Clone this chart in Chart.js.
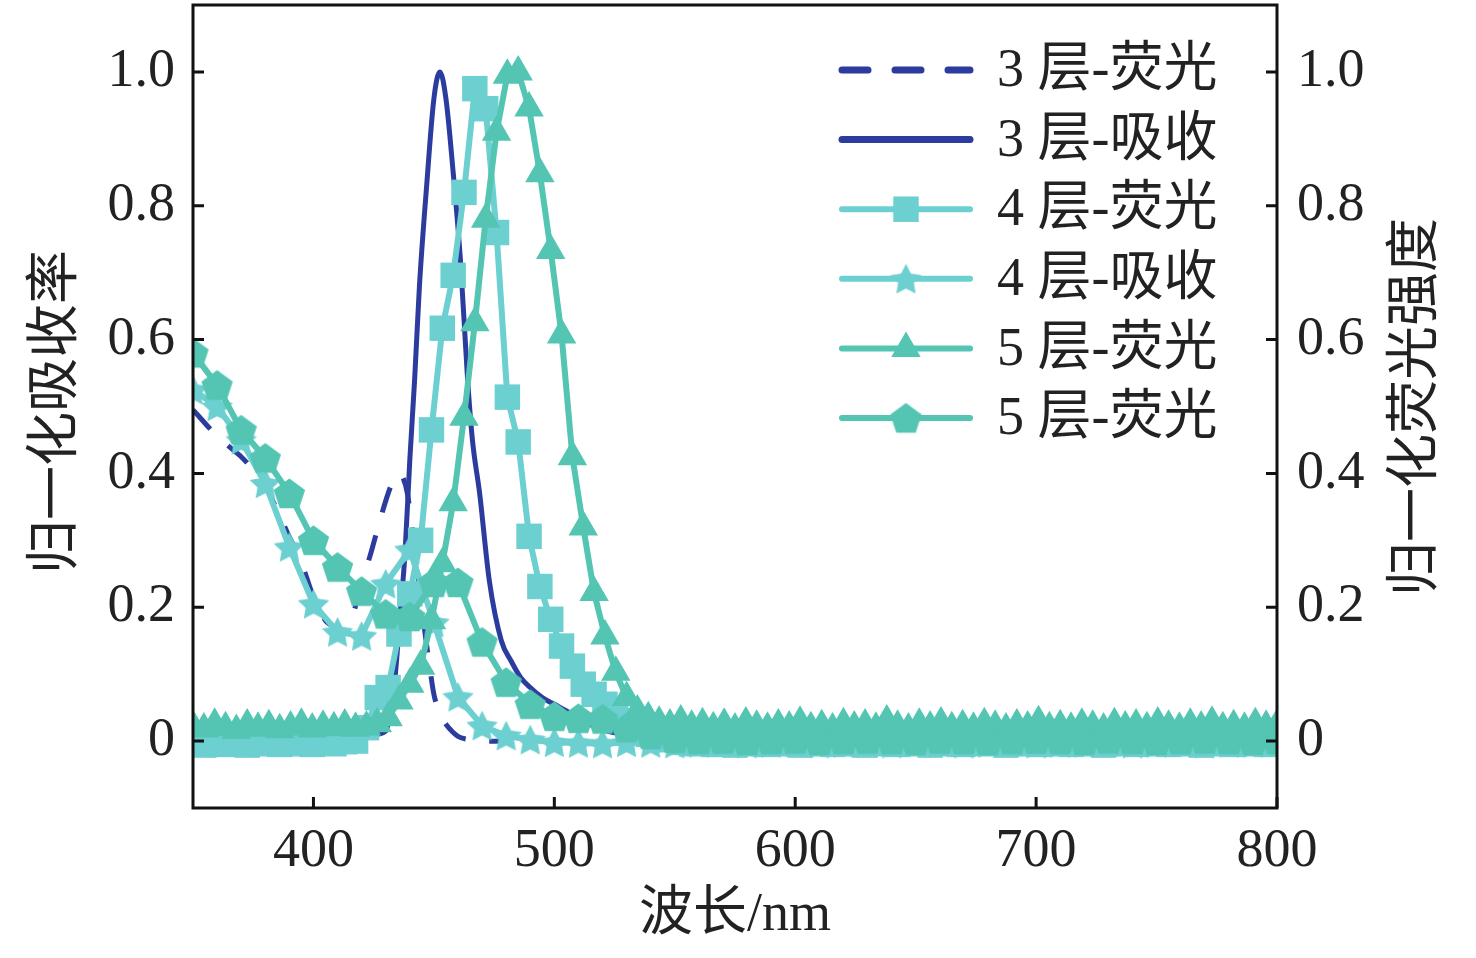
<!DOCTYPE html>
<html>
<head>
<meta charset="utf-8">
<script src="https://cdn.jsdelivr.net/npm/chart.js@4.4.1/dist/chart.umd.min.js"></script>
<style>
  html, body { margin: 0; padding: 0; background: #fff; }
  #wrap { width: 1476px; height: 958px; }
</style>
</head>
<body>
<div id="wrap"><canvas id="myChart"></canvas></div>
<script>
// wavelength grids (nm)
var wl45 = [
  350, 354.5, 359, 363.5, 368, 372.5, 377, 381.5, 386, 390.5,
  395, 399.5, 404, 408.5, 413, 417.5, 422, 426.5, 431, 435.5,
  440, 444.5, 449, 453.5, 458, 462.5, 467, 471.5, 476, 480.5,
  485, 489.5, 494, 498.5, 503, 507.5, 512, 516.5, 521, 525.5,
  530, 534.5, 539, 543.5, 548, 552.5, 557, 561.5, 566, 570.5,
  575, 579.5, 584, 588.5, 593, 597.5, 602, 606.5, 611, 615.5,
  620, 624.5, 629, 633.5, 638, 642.5, 647, 651.5, 656, 660.5,
  665, 669.5, 674, 678.5, 683, 687.5, 692, 696.5, 701, 705.5,
  710, 714.5, 719, 723.5, 728, 732.5, 737, 741.5, 746, 750.5,
  755, 759.5, 764, 768.5, 773, 777.5, 782, 786.5, 791, 795.5,
  800
];
var wl10 = [
  350, 360, 370, 380, 390, 400, 410, 420, 430, 440,
  450, 460, 470, 480, 490, 500, 510, 520, 530, 540,
  550, 560, 570, 580, 590, 600, 610, 620, 630, 640,
  650, 660, 670, 680, 690, 700, 710, 720, 730, 740,
  750, 760, 770, 780, 790, 800
];

// 3 层-荧光 (dashed)
var wl3Fluor = [350, 355, 360, 365, 370, 375, 380, 385, 390, 395, 400, 405, 410, 413, 416, 420, 424, 428, 432, 435, 437, 439, 442, 444, 446, 448, 450, 452, 455, 460, 465, 470, 480];
var layer3Fluor = [0.495, 0.475, 0.455, 0.44, 0.425, 0.405, 0.38, 0.345, 0.305, 0.267, 0.215, 0.18, 0.168, 0.165, 0.185, 0.235, 0.283, 0.335, 0.38, 0.40, 0.395, 0.37, 0.29, 0.23, 0.17, 0.118, 0.07, 0.045, 0.025, 0.007, 0.002, 0, 0];

// 3 层-吸收 (solid)
var wl3Abs = [350, 380, 410, 425, 430, 432, 434, 436, 438, 440, 442, 444, 447, 450, 452.5, 455, 458, 461, 464, 466, 469, 473, 478, 482, 486, 490, 495, 500, 506, 512, 518, 524, 530, 560, 600, 650, 700, 750, 800];
var layer3Abs = [0.01, 0.01, 0.01, 0.01, 0.015, 0.045, 0.1, 0.19, 0.28, 0.42, 0.54, 0.68, 0.83, 0.96, 1.0, 0.96, 0.85, 0.72, 0.54, 0.45, 0.37, 0.24, 0.15, 0.12, 0.095, 0.08, 0.065, 0.055, 0.043, 0.03, 0.02, 0.013, 0.01, 0.008, 0.008, 0.008, 0.008, 0.008, 0.008];

// 4 层-荧光 (squares) on wl45
var layer4Fluor = [
  -0.004, -0.006, -0.003, -0.005, -0.002, -0.006, -0.004, -0.003, -0.005, -0.004,
  -0.003, -0.005, -0.002, -0.004, -0.001, 0.0, 0.02, 0.065, 0.08, 0.16,
  0.22, 0.30, 0.465, 0.617, 0.696, 0.82, 0.975, 0.945, 0.76, 0.514,
  0.447, 0.306, 0.231, 0.182, 0.142, 0.112, 0.085, 0.07, 0.055, 0.042,
  0.03, 0.018, 0.01, 0.004, 0.002, -0.002, -0.004, -0.003, -0.005, -0.004,
  -0.006, -0.003, -0.004, -0.005, -0.002, -0.004, -0.006, -0.003, -0.004, -0.005,
  -0.003, -0.004, -0.006, -0.002, -0.004, -0.005, -0.003, -0.004, -0.006, -0.003,
  -0.004, -0.005, -0.002, -0.004, -0.003, -0.006, -0.004, -0.003, -0.005, -0.004,
  -0.002, -0.005, -0.004, -0.003, -0.006, -0.004, -0.003, -0.005, -0.004, -0.002,
  -0.005, -0.004, -0.003, -0.006, -0.004, -0.003, -0.005, -0.004, -0.003, -0.005,
  -0.004
];

// 4 层-吸收 (stars) on wl10
var layer4Abs = [
  0.525, 0.50, 0.45, 0.385, 0.29, 0.205, 0.163, 0.157, 0.235, 0.286,
  0.177, 0.066, 0.023, 0.008, 0.002, -0.002, -0.003, -0.004, -0.002, -0.003,
  -0.004, -0.003, -0.002, -0.004, -0.003, -0.002, -0.004, -0.003, -0.003, -0.004,
  -0.002, -0.003, -0.004, -0.003, -0.002, -0.004, -0.003, -0.003, -0.002, -0.004,
  -0.003, -0.002, -0.004, -0.003, -0.003, -0.002
];

// 5 层-荧光 (triangles) on wl45
var layer5FluorA = [
  0.022, 0.018, 0.025, 0.02, 0.016, 0.024, 0.019, 0.023, 0.017, 0.021,
  0.025, 0.018, 0.022, 0.02, 0.024, 0.019, 0.021, 0.026, 0.035, 0.06,
  0.085, 0.112, 0.18, 0.265, 0.356, 0.484, 0.625, 0.78, 0.91, 0.995,
  1.0, 0.946, 0.848, 0.733, 0.607, 0.425, 0.32, 0.222, 0.157, 0.103,
  0.065, 0.045, 0.035, 0.028, 0.024, 0.03, 0.022, 0.026, 0.02, 0.025,
  0.018, 0.027, 0.022, 0.019, 0.024, 0.021, 0.028, 0.02, 0.023, 0.018,
  0.026, 0.021, 0.024, 0.019, 0.03, 0.022, 0.018, 0.025, 0.021, 0.027,
  0.02, 0.023, 0.019, 0.026, 0.022, 0.018, 0.024, 0.021, 0.029, 0.02,
  0.023, 0.019, 0.025, 0.022, 0.018, 0.026, 0.021, 0.024, 0.02, 0.027,
  0.022, 0.019, 0.025, 0.021, 0.028, 0.02, 0.023, 0.019, 0.026, 0.022,
  0.024
];

// 5 层-荧光 (pentagons) on wl10
var layer5FluorB = [
  0.58, 0.532, 0.465, 0.423, 0.37, 0.30, 0.26, 0.224, 0.19, 0.186,
  0.237, 0.237, 0.148, 0.088, 0.055, 0.037, 0.034, 0.033, 0.02, 0.01,
  0.004, 0.002, 0.003, 0.001, 0.002, 0.003, 0.001, 0.002, 0.003, 0.002,
  0.001, 0.003, 0.002, 0.001, 0.002, 0.003, 0.002, 0.001, 0.003, 0.002,
  0.001, 0.002, 0.003, 0.002, 0.001, 0.002
];

var seriesNames = ['3 层-荧光', '3 层-吸收', '4 层-荧光', '4 层-吸收', '5 层-荧光', '5 层-荧光'];
var xTicks = [400, 500, 600, 700, 800];
var yTicks = [0, 0.2, 0.4, 0.6, 0.8, 1.0];

var BLUE = '#2b3b9e';
var CYAN = '#6ccfd0';
var TEAL = '#53c5b2';
var NUM_FONT = "'Liberation Serif', 'Noto Sans CJK SC', serif";

function pairs(xs, ys) {
  return xs.map(function (x, i) { return {x: x, y: ys[i]}; });
}

// filled star / pentagon markers
function makeShape(kind, size, color) {
  var c = document.createElement('canvas');
  c.width = c.height = size;
  var g = c.getContext('2d');
  var r = size / 2;
  var n = kind === 'star' ? 10 : 5;
  g.fillStyle = color;
  g.beginPath();
  for (var i = 0; i < n; i++) {
    var ang = -Math.PI / 2 + i * 2 * Math.PI / n;
    var rr = (kind === 'star' && i % 2) ? r * 0.5 : r;
    g.lineTo(r + rr * Math.cos(ang), r + rr * Math.sin(ang) + 1.5);
  }
  g.closePath();
  g.fill();
  return c;
}

var starImg = makeShape('star', 33, CYAN);
var pentImg = makeShape('pent', 33, TEAL);

var datasets = [
  {label: seriesNames[0], data: pairs(wl3Fluor, layer3Fluor), borderColor: BLUE, borderWidth: 5,
   borderDash: [26, 24], pointRadius: 0, tension: 0.3, order: 6},
  {label: seriesNames[1], data: pairs(wl3Abs, layer3Abs), borderColor: BLUE, borderWidth: 5,
   pointRadius: 0, cubicInterpolationMode: 'monotone', order: 5},
  {label: seriesNames[2], data: pairs(wl45, layer4Fluor), borderColor: CYAN, backgroundColor: CYAN, borderWidth: 6,
   pointStyle: 'rect', pointRadius: 18, pointBorderWidth: 0, order: 4},
  {label: seriesNames[3], data: pairs(wl10, layer4Abs), borderColor: CYAN, backgroundColor: CYAN, borderWidth: 6,
   pointStyle: starImg, pointRadius: 16, order: 3},
  {label: seriesNames[4], data: pairs(wl45, layer5FluorA), borderColor: TEAL, backgroundColor: TEAL, borderWidth: 6,
   pointStyle: 'triangle', pointRadius: 17, pointBorderWidth: 0, order: 2},
  {label: seriesNames[5], data: pairs(wl10, layer5FluorB), borderColor: TEAL, backgroundColor: TEAL, borderWidth: 6,
   pointStyle: pentImg, pointRadius: 16, order: 1}
];
datasets.forEach(function (d) { d.clip = 0; d.fill = false; });

// box, inward ticks, legend and axis titles
var decorations = {
  id: 'decorations',
  afterDatasetsDraw: function (chart) {
    var ctx = chart.ctx, a = chart.chartArea, sc = chart.scales;
    ctx.save();
    ctx.strokeStyle = '#111';
    ctx.lineWidth = 3;
    ctx.strokeRect(a.left, a.top, a.right - a.left, a.bottom - a.top);
    ctx.beginPath();
    yTicks.forEach(function (v) {
      var y = sc.y.getPixelForValue(v);
      ctx.moveTo(a.left, y); ctx.lineTo(a.left + 11, y);
      ctx.moveTo(a.right, y); ctx.lineTo(a.right - 11, y);
    });
    xTicks.forEach(function (v) {
      var x = sc.x.getPixelForValue(v);
      ctx.moveTo(x, a.bottom); ctx.lineTo(x, a.bottom - 11);
    });
    ctx.stroke();

    // legend
    var lx0 = 842, lx1 = 970, ly = 70, step = 69.6;
    chart.data.datasets.forEach(function (d, i) {
      var y = ly + i * step;
      ctx.strokeStyle = d.borderColor;
      ctx.lineWidth = i < 2 ? 7 : 6;
      ctx.lineCap = 'round';
      ctx.setLineDash(d.borderDash ? [26, 27] : []);
      ctx.beginPath();
      ctx.moveTo(lx0, y); ctx.lineTo(lx1, y);
      ctx.stroke();
      ctx.setLineDash([]);
      if (d.pointRadius > 0) {
        ctx.fillStyle = d.backgroundColor;
        Chart.helpers.drawPoint(ctx, {pointStyle: d.pointStyle, radius: d.pointRadius, rotation: 0, borderWidth: 0}, (lx0 + lx1) / 2, y);
      }
      ctx.fillStyle = '#222';
      ctx.font = '54px ' + NUM_FONT;
      ctx.textAlign = 'left';
      ctx.textBaseline = 'middle';
      ctx.fillText(d.label, 997, y + 2);
    });
    ctx.restore();
  },
  afterDraw: function (chart) {
    var ctx = chart.ctx;
    ctx.save();
    ctx.fillStyle = '#222';
    ctx.font = '54px ' + NUM_FONT;
    ctx.textAlign = 'center';
    ctx.textBaseline = 'middle';
    ctx.fillText('波长/nm', 735, 916);

    ctx.translate(58, 412);
    ctx.rotate(-Math.PI / 2);
    ctx.fillText('归一化吸收率', 0, 0);
    ctx.restore();

    ctx.save();
    ctx.fillStyle = '#222';
    ctx.font = '54px ' + NUM_FONT;
    ctx.textAlign = 'center';
    ctx.textBaseline = 'middle';
    ctx.translate(1418, 407);
    ctx.rotate(-Math.PI / 2);
    ctx.fillText('归一化荧光强度', 0, 0);
    ctx.restore();
  }
};

function fixedTicks(list) {
  return function (s) { s.ticks = list.map(function (v) { return {value: v}; }); };
}
function fitY(width) {
  return function (s) { s.width = width; s.paddingTop = 0; s.paddingBottom = 0; };
}
function yLabel(v) { return v === 0 ? '0' : v.toFixed(1); }

var ctx = document.getElementById('myChart').getContext('2d');
var chart = new Chart(ctx, {
  type: 'line',
  data: {datasets: datasets},
  options: {
    responsive: true,
    maintainAspectRatio: false,
    animation: false,
    events: [],
    layout: {autoPadding: false, padding: {top: 5, left: 0, right: 0, bottom: 0}},
    plugins: {legend: {display: false}, tooltip: {enabled: false}},
    scales: {
      x: {
        type: 'linear', min: 350, max: 800,
        afterBuildTicks: fixedTicks(xTicks),
        afterFit: function (s) { s.height = 150; s.paddingLeft = 0; s.paddingRight = 0; },
        grid: {display: false, drawTicks: false},
        border: {display: false},
        ticks: {padding: 11, color: '#222', font: {family: NUM_FONT, size: 54}}
      },
      y: {
        position: 'left', min: -0.1, max: 1.1,
        afterBuildTicks: fixedTicks(yTicks),
        afterFit: fitY(193),
        grid: {display: false, drawTicks: false},
        border: {display: false},
        ticks: {padding: 18, color: '#222', font: {family: NUM_FONT, size: 54}, callback: yLabel}
      },
      y2: {
        position: 'right', min: -0.1, max: 1.1,
        afterBuildTicks: fixedTicks(yTicks),
        afterFit: fitY(199),
        grid: {display: false, drawTicks: false},
        border: {display: false},
        ticks: {padding: 20, color: '#222', font: {family: NUM_FONT, size: 54}, callback: yLabel}
      }
    }
  },
  plugins: [decorations]
});
</script>
</body>
</html>
